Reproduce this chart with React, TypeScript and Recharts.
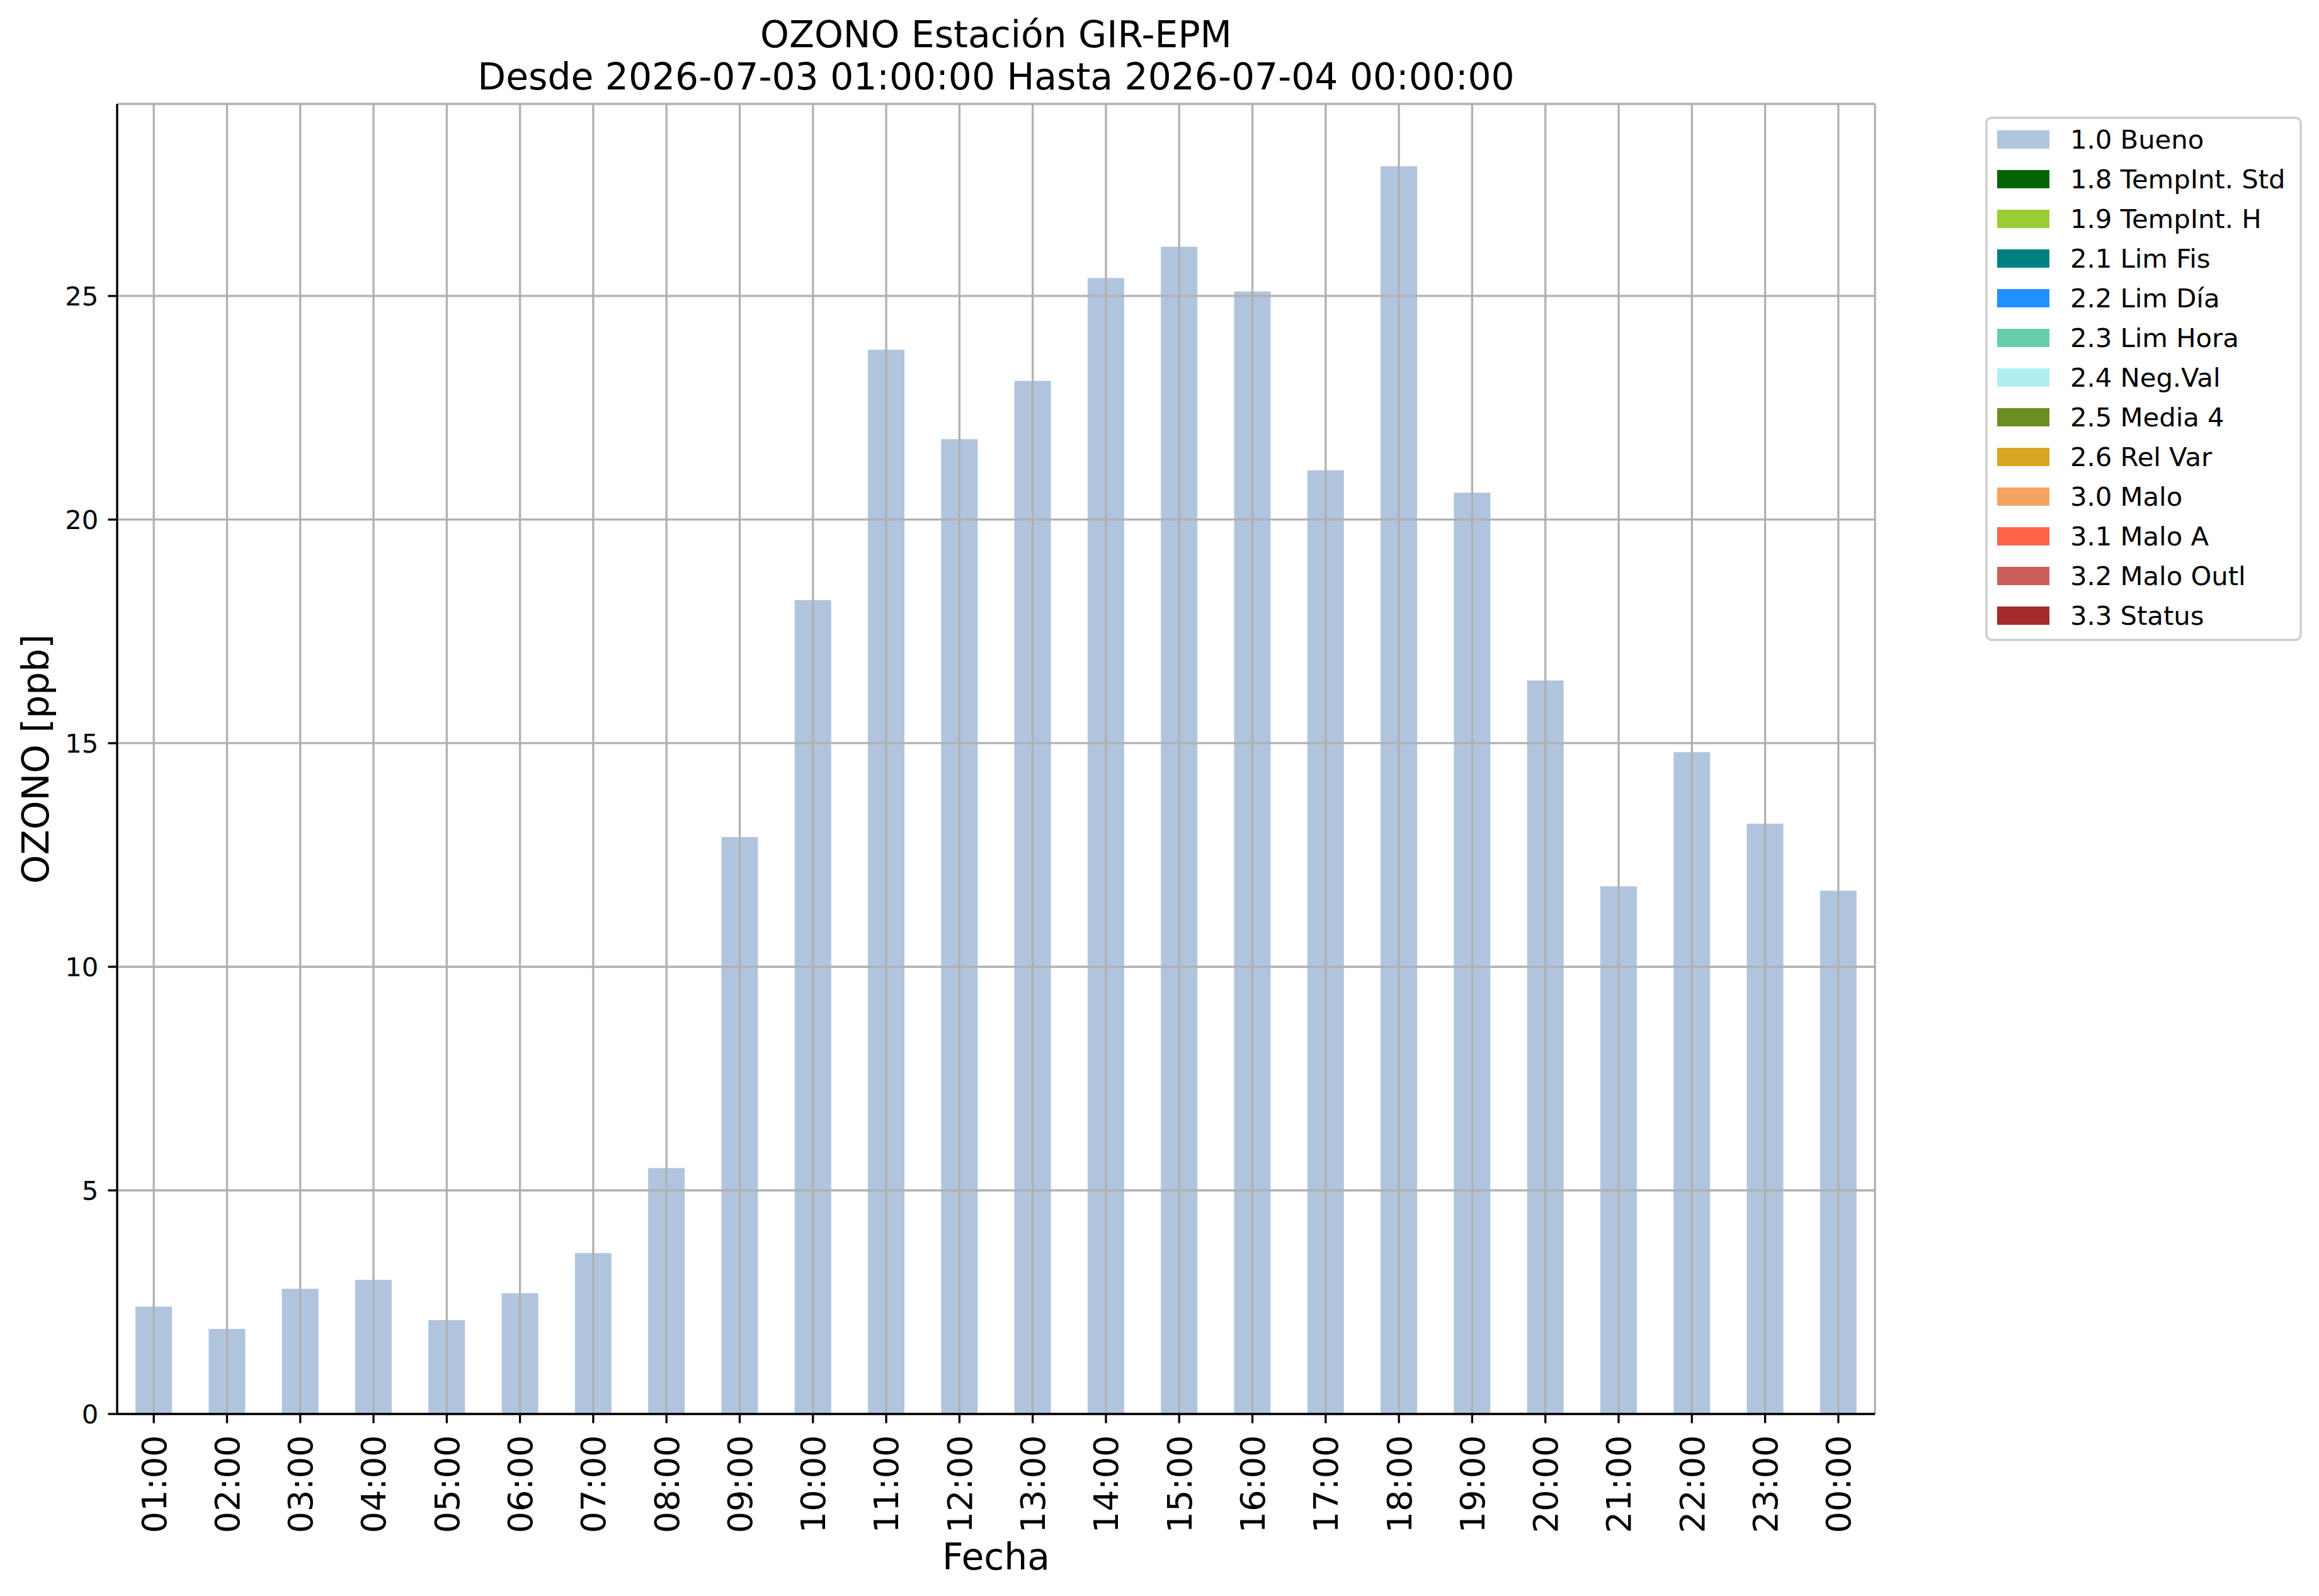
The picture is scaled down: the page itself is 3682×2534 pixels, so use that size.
import React from 'react';
import { BarChart, Bar, XAxis, YAxis, CartesianGrid, Legend } from 'recharts';

const FONT = '"DejaVu Sans", Verdana, sans-serif';

const hours = [
  '01:00', '02:00', '03:00', '04:00', '05:00', '06:00', '07:00', '08:00',
  '09:00', '10:00', '11:00', '12:00', '13:00', '14:00', '15:00', '16:00',
  '17:00', '18:00', '19:00', '20:00', '21:00', '22:00', '23:00', '00:00'
];

// OZONO [ppb], flag 1.0 Bueno
const ozone = [
  2.4, 1.9, 2.8, 3.0, 2.1, 2.7, 3.6, 5.5,
  12.9, 18.2, 23.8, 21.8, 23.1, 25.4, 26.1, 25.1,
  21.1, 27.9, 20.6, 16.4, 11.8, 14.8, 13.2, 11.7
];

const yTicks = [0, 5, 10, 15, 20, 25];

const flagLabels = [
  '1.0 Bueno', '1.8 TempInt. Std', '1.9 TempInt. H', '2.1 Lim Fis', '2.2 Lim Día',
  '2.3 Lim Hora', '2.4 Neg.Val', '2.5 Media 4', '2.6 Rel Var', '3.0 Malo',
  '3.1 Malo A', '3.2 Malo Outl', '3.3 Status'
];

const flagColors = [
  '#B0C4DE', '#006400', '#9ACD32', '#008080', '#1E90FF',
  '#66CDAA', '#AFEEEE', '#6B8E23', '#DAA520', '#F4A460',
  '#FF6347', '#CD5C5C', '#A52A2A'
];

const titleLines = [
  'OZONO Estación GIR-EPM',
  'Desde 2026-07-03 01:00:00 Hasta 2026-07-04 00:00:00'
];

const chartData = hours.map((hour, i) => ({ hour, bueno: ozone[i] }));
const yMax = Math.max(...ozone) * 1.05;

const LINE_W = 3.3;

const HourTick = ({ x, y, payload }: any) => (
  <text
    x={x}
    y={y}
    transform={`rotate(-90, ${x}, ${y})`}
    textAnchor="end"
    dy="0.36em"
    fontSize={54}
    fontFamily={FONT}
    fill="#000"
  >
    {payload.value}
  </text>
);

const FlagLegend = () => (
  <svg width={503} height={833}>
    <rect x={2} y={2} width={499} height={829} rx={8} fill="#fff" fillOpacity={0.8}
      stroke="#cccccc" strokeWidth={LINE_W} />
    {flagLabels.map((label, i) => (
      <g key={label}>
        <rect x={19} y={22 + i * 63} width={83} height={29} fill={flagColors[i]} />
        <text x={135} y={51 + i * 63} fontSize={41.7} fontFamily={FONT} fill="#000">
          {label}
        </text>
      </g>
    ))}
  </svg>
);

export default function App() {
  return (
    <div style={{ position: 'absolute', left: 0, top: 0, width: 3682, height: 2534, background: '#fff' }}>
      <BarChart
        width={3682}
        height={2534}
        data={chartData}
        margin={{ top: 165, right: 705, left: 0, bottom: 0 }}
        barCategoryGap="25%"
      >
        <XAxis
          dataKey="hour"
          interval={0}
          height={289}
          tick={<HourTick />}
          tickSize={14.6}
          tickMargin={19}
          tickLine={{ stroke: '#000', strokeWidth: LINE_W }}
          axisLine={{ stroke: '#000', strokeWidth: LINE_W }}
          label={{ value: 'Fecha', position: 'insideBottom', offset: 42, fontSize: 58.3, fontFamily: FONT, fill: '#000' }}
        />
        <XAxis
          xAxisId="top"
          dataKey="hour"
          orientation="top"
          height={0}
          tick={false}
          tickLine={false}
          axisLine={{ stroke: '#000', strokeWidth: LINE_W }}
        />
        <YAxis
          width={186}
          domain={[0, yMax]}
          ticks={yTicks}
          tickSize={14.6}
          tickMargin={15}
          tick={{ fontSize: 41.7, fontFamily: FONT, fill: '#000' }}
          tickLine={{ stroke: '#000', strokeWidth: LINE_W }}
          axisLine={{ stroke: '#000', strokeWidth: LINE_W }}
          label={{ value: 'OZONO [ppb]', angle: -90, position: 'center', dx: -36.5, fontSize: 58.3, fontFamily: FONT, fill: '#000' }}
        />
        <YAxis
          yAxisId="right"
          orientation="right"
          width={0}
          domain={[0, yMax]}
          tick={false}
          tickLine={false}
          axisLine={{ stroke: '#000', strokeWidth: LINE_W }}
        />
        <Bar dataKey="bueno" name="1.0 Bueno" fill={flagColors[0]} isAnimationActive={false} />
        <CartesianGrid stroke="#b0b0b0" strokeWidth={LINE_W} zIndex={350} />
        <Legend
          layout="vertical"
          align="center"
          verticalAlign="middle"
          content={<FlagLegend />}
          wrapperStyle={{ left: 3152, top: 185, width: 503, height: 833 }}
        />
      </BarChart>
      <svg width={3682} height={170} style={{ position: 'absolute', left: 0, top: 0, pointerEvents: 'none' }}>
        {titleLines.map((line, i) => (
          <text key={line} x={1581.5} y={75 + i * 67} textAnchor="middle" fontSize={58.3} fontFamily={FONT} fill="#000">
            {line}
          </text>
        ))}
      </svg>
    </div>
  );
}
